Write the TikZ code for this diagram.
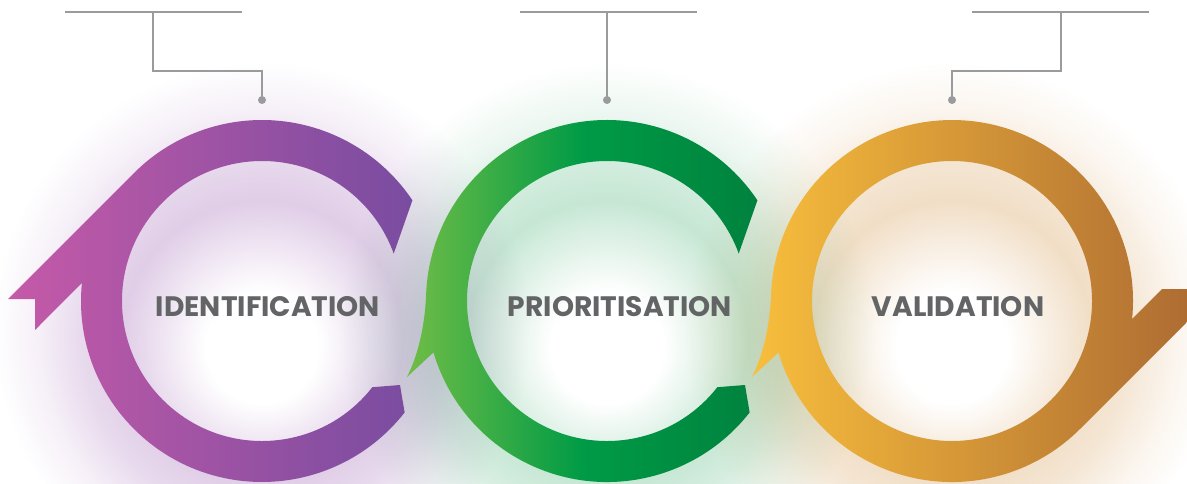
\documentclass[tikz,border=0pt]{standalone}
\usepackage{fontspec}
\newfontfamily\labelfont{Poppins}
\usepackage{xcolor}
\usepackage{tikz}
\usetikzlibrary{positioning, calc}

\definecolor{idleft}{RGB}{197,90,168}
\definecolor{idright}{RGB}{121,76,160}
\definecolor{prleft}{RGB}{112,189,70}
\definecolor{prmid}{RGB}{0,155,70}
\definecolor{prright}{RGB}{0,130,62}
\definecolor{valeft}{RGB}{248,190,60}
\definecolor{varight}{RGB}{172,106,50}
\definecolor{leadgray}{RGB}{155,155,158}
\definecolor{labelgray}{RGB}{99,100,102}
\definecolor{idglow}{RGB}{224,205,231}
\definecolor{prglow}{RGB}{198,231,212}
\definecolor{vaglow}{RGB}{241,222,198}

\pgfdeclareradialshading{idhalo}{\pgfpoint{0bp}{-4bp}}{color(0bp)=(white); color(5bp)=(white); color(12.5bp)=(idglow); color(16bp)=(idglow!75); color(20bp)=(idglow!30); color(24bp)=(white); color(50bp)=(white)}
\pgfdeclareradialshading{prhalo}{\pgfpoint{0bp}{-4bp}}{color(0bp)=(white); color(5bp)=(white); color(12.5bp)=(prglow); color(16bp)=(prglow!75); color(20bp)=(prglow!30); color(24bp)=(white); color(50bp)=(white)}
\pgfdeclareradialshading{vahalo}{\pgfpoint{0bp}{-4bp}}{color(0bp)=(white); color(5bp)=(white); color(12.5bp)=(vaglow); color(16bp)=(vaglow!75); color(20bp)=(vaglow!30); color(24bp)=(white); color(50bp)=(white)}

\begin{document}
\begin{tikzpicture}[
    x=0.025cm, y=0.025cm,
    stagename/.style = {font=\labelfont\bfseries\fontsize{20}{24}\selectfont, text=labelgray, inner sep=0pt},
    leader/.style = {draw=leadgray, line width=1.2pt},
    pindot/.style = {fill=leadgray},
    idring/.style = {left color=idleft, right color=idright},
    prring/.style = {left color=prleft, right color=prright, middle color=prmid},
    varing/.style = {left color=valeft, right color=varight, even odd rule}
]
    \useasboundingbox (0,0) rectangle (1187,483);
    \clip (0,0) rectangle (1187,483);
    \fill[white] (0,0) rectangle (1187,483);

    \begin{scope}[blend mode=multiply]
        \shade[shading=idhalo] (262,176) circle (280);
        \shade[shading=prhalo] (607,176) circle (280);
        \shade[shading=vahalo] (952,176) circle (280);
    \end{scope}

    \begin{scope}[shift={(262,182)}]
        \shade[idring] (33.8:181) arc[start angle=33.8, end angle=135, radius=181]
            -- (-254,2) -- (-227,2) -- (-227,-29)
            -- (174.3:181) arc[start angle=174.3, end angle=322, radius=181]
            -- (138,-84) -- (322:140) arc[start angle=322, end angle=19.8, radius=140] -- cycle;
    \end{scope}
    \begin{scope}[shift={(607,182)}]
        \shade[prring] (33.8:181) arc[start angle=33.8, end angle=178, radius=181]
            .. controls (-182,-20) and (-187,-50) .. (-200,-76)
            -- (196.5:181) arc[start angle=196.5, end angle=322, radius=181]
            -- (138,-84) -- (322:140) arc[start angle=322, end angle=19.8, radius=140] -- cycle;
    \end{scope}
    \begin{scope}[shift={(952,182)}]
        \shade[varing] (-5.67:181) arc[start angle=-5.67, end angle=178, radius=181]
            .. controls (-182,-20) and (-187,-50) .. (-200,-76)
            -- (196.5:181) arc[start angle=196.5, end angle=315, radius=181]
            -- (250,-6) -- (250,12) -- (210,12) -- cycle
            (0,0) circle (140);
    \end{scope}

    \node[stagename] (ident) at (268,176) {IDENTIFICATION};
    \node[stagename] (prior) at (620,176) {PRIORITISATION};
    \node[stagename] (valid) at (958,176) {VALIDATION};

    \coordinate (idbarL) at (65,471);
    \coordinate (idbarR) at (242,471);
    \coordinate (idstem) at (153,471);
    \coordinate (idpin) at (262,383);
    \coordinate (prbarL) at (520,471);
    \coordinate (prbarR) at (697,471);
    \coordinate (prstem) at (607,471);
    \coordinate (prpin) at (607,383);
    \coordinate (vabarL) at (972,471);
    \coordinate (vabarR) at (1149,471);
    \coordinate (vastem) at (1061,471);
    \coordinate (vapin) at (952,383);

    \draw[leader] (idbarL) -- (idbarR);
    \draw[leader] (idstem) -- ++(0,-59) -| (idpin);
    \draw[leader] (prbarL) -- (prbarR);
    \draw[leader] (prstem) -- (prpin);
    \draw[leader] (vabarL) -- (vabarR);
    \draw[leader] (vastem) -- ++(0,-59) -| (vapin);
    \fill[pindot] (idpin) circle (4);
    \fill[pindot] (prpin) circle (4);
    \fill[pindot] (vapin) circle (4);
\end{tikzpicture}
\end{document}
